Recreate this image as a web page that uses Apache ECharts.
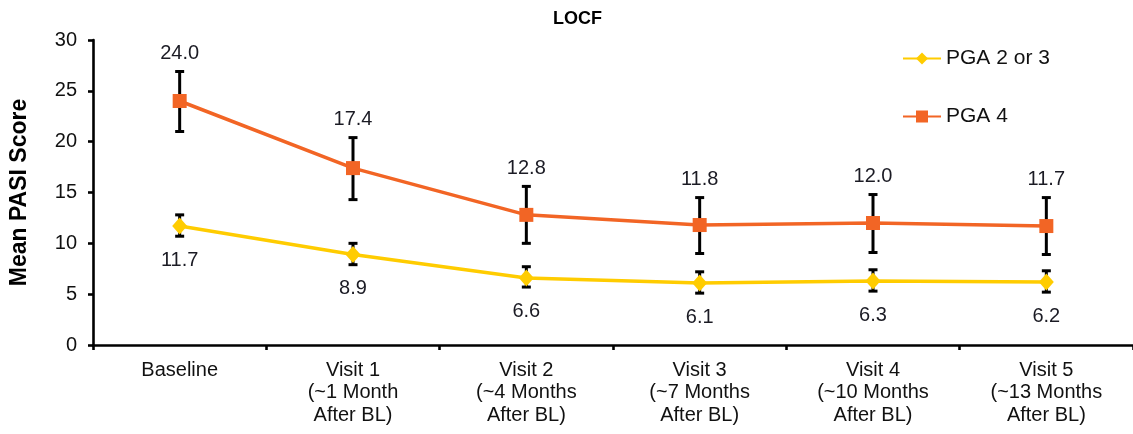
<!DOCTYPE html>
<html>
<head>
<meta charset="utf-8">
<script src="https://cdn.jsdelivr.net/npm/echarts@6/dist/echarts.min.js"></script>
<style>
html,body{margin:0;padding:0;background:#fff;}
#chart{width:1133px;height:434px;}
</style>
</head>
<body>
<div id="chart"></div>
<script>
const categories = ['Baseline', 'Visit 1\n(~1 Month\nAfter BL)', 'Visit 2\n(~4 Months\nAfter BL)', 'Visit 3\n(~7 Months\nAfter BL)', 'Visit 4\n(~10 Months\nAfter BL)', 'Visit 5\n(~13 Months\nAfter BL)'];
const pga23Mean = [11.7, 8.9, 6.6, 6.1, 6.3, 6.2];
const pga23Low  = [10.7, 7.9, 5.7, 5.1, 5.3, 5.2];
const pga23High = [12.8, 10.0, 7.7, 7.2, 7.4, 7.3];
const pga4Mean  = [24.0, 17.4, 12.8, 11.8, 12.0, 11.7];
const pga4Low   = [21.0, 14.3, 10.0, 9.0, 9.1, 8.9];
const pga4High  = [26.9, 20.4, 15.6, 14.5, 14.8, 14.5];
const yTicks = {min: 0, max: 30, interval: 5};

const FONT = 'Liberation Sans, Arial, sans-serif';
const chart = echarts.init(document.getElementById('chart'));

function errData(low, high, mean) {
  return categories.map((c, i) => [i, low[i], high[i], mean[i]]);
}
function errSeries(data, labelAbove) {
  return {
    type: 'custom',
    z: 1,
    silent: true,
    data: data,
    encode: {x: 0, y: [1, 2]},
    renderItem: function (params, api) {
      const x = api.value(0);
      const lo = api.coord([x, api.value(1)]);
      const hi = api.coord([x, api.value(2)]);
      const w = 4.5;
      const style = {stroke: '#000', lineWidth: 3};
      const mean = api.value(3);
      const txt = mean.toFixed(1);
      const ty = labelAbove ? hi[1] - 18 : lo[1] + 24;
      return {
        type: 'group',
        children: [
          {type: 'line', shape: {x1: lo[0], y1: lo[1], x2: hi[0], y2: hi[1]}, style: style},
          {type: 'line', shape: {x1: lo[0] - w, y1: lo[1], x2: lo[0] + w, y2: lo[1]}, style: style},
          {type: 'line', shape: {x1: hi[0] - w, y1: hi[1], x2: hi[0] + w, y2: hi[1]}, style: style},
          {type: 'text', x: lo[0], y: ty, style: {text: txt, fill: '#1b1b24', font: '20px ' + FONT, align: 'center', verticalAlign: 'middle'}}
        ]
      };
    }
  };
}

chart.setOption({
  backgroundColor: '#fff',
  animation: false,
  title: {
    text: 'LOCF', left: 548, top: 5,
    textStyle: {fontFamily: FONT, fontSize: 18, fontWeight: 'bold', color: '#000'}
  },
  legend: {
    orient: 'vertical', left: 897, top: 43, itemGap: 37,
    itemWidth: 38, itemHeight: 15,
    textStyle: {fontFamily: FONT, fontSize: 21, color: '#111'},
    data: ['PGA 2 or 3', 'PGA 4']
  },
  grid: {left: 92, right: 0, top: 40, bottom: 89},
  xAxis: {
    type: 'category', data: categories, boundaryGap: true,
    axisLine: {lineStyle: {color: '#000', width: 2.6}},
    axisTick: {show: true, length: 5, lineStyle: {color: '#000', width: 2.6}},
    axisLabel: {interval: 0, margin: 14, fontFamily: FONT, fontSize: 20, lineHeight: 22.5, color: '#111'}
  },
  yAxis: {
    type: 'value', min: yTicks.min, max: yTicks.max, interval: yTicks.interval,
    name: 'Mean PASI Score', nameLocation: 'middle', nameGap: 62,
    nameTextStyle: {fontFamily: FONT, fontSize: 23, fontWeight: 'bold', color: '#000'},
    axisLine: {show: true, lineStyle: {color: '#000', width: 2.6}},
    axisTick: {show: true, length: 5, lineStyle: {color: '#000', width: 2.6}},
    splitLine: {show: false},
    axisLabel: {margin: 16, fontFamily: FONT, fontSize: 20, color: '#111'}
  },
  series: [
    errSeries(errData(pga23Low, pga23High, pga23Mean), false),
    errSeries(errData(pga4Low, pga4High, pga4Mean), true),
    {
      name: 'PGA 2 or 3', type: 'line', z: 3, data: pga23Mean,
      symbol: 'diamond', symbolSize: [15, 17],
      lineStyle: {color: '#FFCC00', width: 3.5},
      itemStyle: {color: '#FFCC00'}
    },
    {
      name: 'PGA 4', type: 'line', z: 3, data: pga4Mean,
      symbol: 'rect', symbolSize: 14,
      lineStyle: {color: '#F26525', width: 3.5},
      itemStyle: {color: '#F26525'}
    }
  ]
});
</script>
</body>
</html>
